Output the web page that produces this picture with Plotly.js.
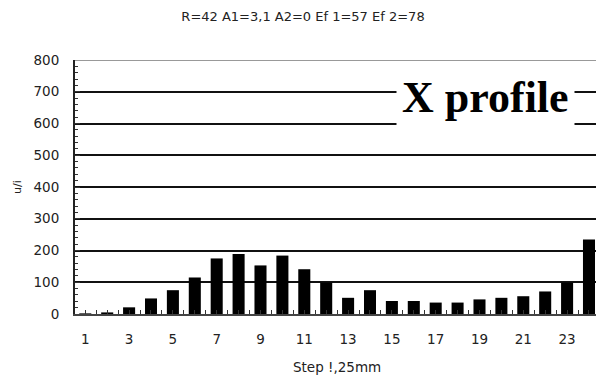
<!DOCTYPE html>
<html>
<head>
<meta charset="utf-8">
<script src="https://cdn.plot.ly/plotly-3.0.1.min.js"></script>
<style>html,body{margin:0;padding:0;background:#fff;}#chart{width:596px;height:377px;}</style>
</head>
<body>
<div id="chart"></div>
<script>
const steps = [1,2,3,4,5,6,7,8,9,10,11,12,13,14,15,16,17,18,19,20,21,22,23,24];
const values = [2,5,21,49,75,115,175,189,153,184,141,99,51,75,41,41,36,36,46,51,56,71,99,235];
const xTickVals = [1,3,5,7,9,11,13,15,17,19,21,23];
const xTickText = ["1","3","5","7","9","11","13","15","17","19","21","23"];
const yTickVals = [0,100,200,300,400,500,600,700,800];
const chartTitle = "R=42 A1=3,1 A2=0 Ef 1=57 Ef 2=78";
const xTitle = "Step !,25mm";
const yTitle = "u/i";
const boxLabel = "X profile";

const sans = "'DejaVu Sans', Arial, sans-serif";
const tickFont = {family: sans, size: 13.5, color: "#222"};

const data = [{
  type: "bar",
  x: steps,
  y: values,
  width: 0.55,
  marker: {color: "#000", line: {width: 0}},
  hoverinfo: "x+y"
}];

const layout = {
  width: 596, height: 377,
  margin: {l: 75, r: 0, t: 60, b: 63},
  paper_bgcolor: "#fff", plot_bgcolor: "#fff",
  showlegend: false,
  title: {
    text: chartTitle,
    font: {family: sans, size: 13, color: "#222"},
    x: 303/596, xref: "container", xanchor: "center",
    y: 1 - 16/377, yref: "container", yanchor: "middle"
  },
  xaxis: {
    range: [0.53, 24.32],
    tickmode: "array", tickvals: xTickVals, ticktext: xTickText,
    ticks: "inside", ticklen: 4, tickwidth: 1, tickcolor: "#333",
    minor: {tickmode: "linear", tick0: 0.5, dtick: 0.5, ticks: "inside", ticklen: 4, tickwidth: 1, tickcolor: "#333", showgrid: false},
    showgrid: false, zeroline: false,
    showline: true, linecolor: "#444", linewidth: 2,
    tickfont: tickFont, ticklabelstandoff: 12,
    fixedrange: true
  },
  yaxis: {
    range: [0, 800],
    tickmode: "array", tickvals: yTickVals,
    ticks: "inside", ticklen: 5, tickwidth: 1, tickcolor: "#333",
    minor: {tickmode: "linear", tick0: 0, dtick: 20, ticks: "inside", ticklen: 3, tickwidth: 1, tickcolor: "#333", showgrid: false},
    showgrid: true, gridcolor: "#111", gridwidth: 2,
    zeroline: false,
    showline: true, linecolor: "#222", linewidth: 2,
    tickfont: tickFont, ticklabelstandoff: 11,
    fixedrange: true
  },
  shapes: [{
    type: "line", xref: "paper", yref: "y", x0: 0, x1: 1, y0: 800, y1: 800,
    line: {color: "#999", width: 2}, layer: "above"
  }],
  annotations: [
    {
      text: boxLabel, xref: "paper", yref: "paper",
      x: (485-75)/521, y: (314-97)/254, xanchor: "center", yanchor: "middle",
      showarrow: false, bgcolor: "#fff", borderpad: 5,
      font: {family: "'Liberation Serif', 'Times New Roman', serif", size: 44, color: "#000", weight: "bold"}
    },
    {
      text: xTitle, xref: "paper", yref: "paper",
      x: (337-75)/521, y: -(367-314)/254, xanchor: "center", yanchor: "middle",
      showarrow: false,
      font: {family: sans, size: 13.5, color: "#222"}
    },
    {
      text: yTitle, xref: "paper", yref: "paper",
      x: -(75-17)/521, y: (314-187)/254, xanchor: "center", yanchor: "middle",
      textangle: -90, showarrow: false,
      font: {family: sans, size: 11, color: "#222"}
    }
  ]
};

Plotly.newPlot("chart", data, layout, {displayModeBar: false, staticPlot: true});
</script>
</body>
</html>
